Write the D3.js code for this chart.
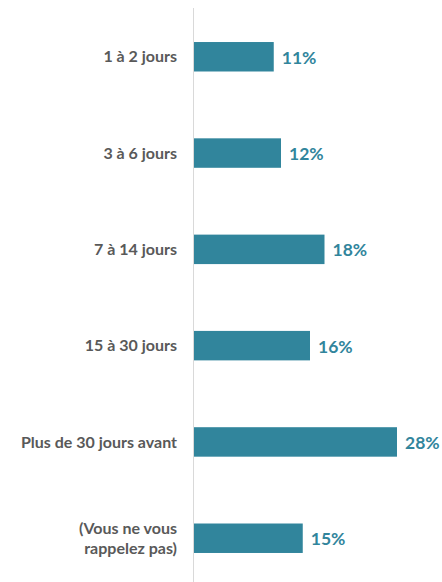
<!DOCTYPE html>
<html>
    <head>
        <meta http-equiv="Content-Type" content="text/html;charset=utf-8">
        <script src="https://d3js.org/d3.v7.min.js"></script>
        <style>
            body { margin:0; background:#fff; }
            text { font-family: Lato, "Open Sans", sans-serif; font-weight:bold; }
        </style>
    </head>
    <body>
        <svg width="442" height="582"></svg>
    </body>
    <script>
        var categories = ["1 à 2 jours", "3 à 6 jours", "7 à 14 jours", "15 à 30 jours",
                          "Plus de 30 jours avant", "(Vous ne vous\nrappelez pas)"];
        var values = [11, 12, 18, 16, 28, 15];
        var valueLabels = ["11%", "12%", "18%", "16%", "28%", "15%"];

        var svg = d3.select("svg");

        var x = d3.scaleLinear()
            .domain([0, 30])
            .range([194, 194 + 30 * 7.25]);

        var y = d3.scaleBand()
            .domain(categories)
            .range([9, 586])
            .paddingInner(0.694)
            .paddingOuter(0.343);

        var rows = categories.map(function(c, i){
            return {cat: c, val: values[i], lbl: valueLabels[i]};
        });

        svg.selectAll("rect.bar")
            .data(rows)
            .enter()
            .append("rect")
                .attr("class", "bar")
                .attr("x", x(0))
                .attr("y", function(d){ return y(d.cat); })
                .attr("width", function(d){ return x(d.val) - x(0); })
                .attr("height", y.bandwidth())
                .attr("fill", "#31859c");

        // axis line
        svg.append("line")
            .attr("x1", x(0) - 0.5).attr("x2", x(0) - 0.5)
            .attr("y1", 8).attr("y2", 582)
            .attr("stroke", "#d9d9d9")
            .attr("stroke-width", 1);

        // category labels
        var cat = svg.selectAll("text.cat")
            .data(rows)
            .enter()
            .append("text")
                .attr("class", "cat")
                .attr("text-anchor", "end")
                .attr("fill", "#595959")
                .attr("font-size", 16)
                .attr("x", 177)
                .attr("y", function(d){ return y(d.cat) + y.bandwidth() / 2; });

        cat.each(function(d){
            var lines = d.cat.split("\n");
            var t = d3.select(this);
            lines.forEach(function(l, i){
                t.append("tspan")
                    .attr("x", 177)
                    .attr("dy", i == 0 ? (0.35 - (lines.length - 1) * 0.6) + "em" : "1.25em")
                    .text(l);
            });
        });

        // value labels
        svg.selectAll("text.val")
            .data(rows)
            .enter()
            .append("text")
                .attr("class", "val")
                .attr("fill", "#31859c")
                .attr("font-size", 17.5)
                .attr("x", function(d){ return x(d.val) + 8; })
                .attr("y", function(d){ return y(d.cat) + y.bandwidth() / 2; })
                .attr("dy", "0.4em")
                .text(function(d){ return d.lbl; });
    </script>
</html>
